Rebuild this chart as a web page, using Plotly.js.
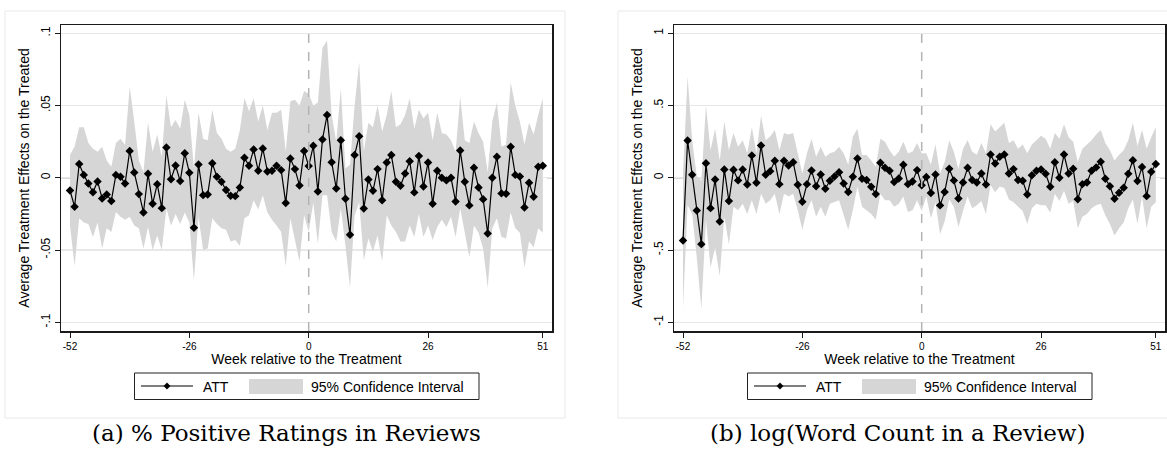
<!DOCTYPE html>
<html>
<head>
<meta charset="utf-8">
<script src="https://cdn.plot.ly/plotly-3.0.1.min.js"></script>
<style>html,body{margin:0;padding:0;background:#fff;}#chart{width:1167px;height:458px;}</style>
</head>
<body>
<div id="chart"></div>
<script>
// ---- data ----
var weeks = [-52,-51,-50,-49,-48,-47,-46,-45,-44,-43,-42,-41,-40,-39,-38,-37,-36,-35,-34,-33,-32,-31,-30,-29,-28,-27,-26,-25,-24,-23,-22,-21,-20,-19,-18,-17,-16,-15,-14,-13,-12,-11,-10,-9,-8,-7,-6,-5,-4,-3,-2,-1,
0,1,2,3,4,5,6,7,8,9,10,11,12,13,14,15,16,17,18,19,20,21,22,23,24,25,26,27,28,29,30,31,32,33,34,35,36,37,38,39,40,41,42,43,44,45,46,47,48,49,50,51];

// (a) % Positive Ratings in Reviews
var attA = [-0.0088,-0.020,0.0095,0.002,-0.004,-0.010,-0.0025,-0.0143,-0.0115,-0.016,0.002,0.0007,-0.004,0.0185,0.0037,-0.0113,-0.024,0.0028,-0.018,-0.0044,-0.021,0.021,-0.001,0.0085,-0.0023,0.017,0.0035,-0.0346,0.0092,-0.012,-0.0115,0.010,0.0007,-0.0028,-0.0085,-0.0125,-0.0127,-0.0067,0.0138,0.0083,0.0196,0.0048,0.0203,0.0044,0.0048,0.0083,0.0053,-0.0175,0.0134,0.006,-0.0053,0.0185,
0.0081,0.0221,-0.0095,0.0265,0.0434,0.0108,-0.0074,0.026,-0.0145,-0.0394,0.0157,0.0288,-0.0212,-0.0012,-0.009,0.006,-0.0155,0.0106,0.0157,-0.0028,-0.0055,0.003,0.0115,-0.0101,0.015,-0.006,0.0106,-0.018,0.0048,0.0,-0.0018,0.0,-0.0164,0.0189,-0.0028,-0.0191,0.0069,-0.0067,-0.0148,-0.0385,0.0,0.0145,-0.0108,-0.011,0.0215,0.002,0.0009,-0.0205,-0.0035,-0.0131,0.0076,0.0083];
var upperA = [0.016,0.0215,0.035,0.035,0.024,0.020,0.018,0.0215,0.012,0.0076,0.024,0.027,0.0227,0.063,0.039,0.012,0.004,0.038,0.018,0.030,0.0146,0.057,0.035,0.040,0.034,0.054,0.0435,0.0065,0.045,0.027,0.026,0.047,0.031,0.027,0.020,0.018,0.020,0.033,0.055,0.046,0.055,0.039,0.050,0.033,0.045,0.045,0.047,0.018,0.053,0.054,0.050,0.060,
0.058,0.050,0.052,0.090,0.095,0.0435,0.025,0.062,0.0065,0.009,0.050,0.080,0.018,0.038,0.035,0.050,0.032,0.0435,0.060,0.035,0.037,0.0435,0.055,0.034,0.047,0.041,0.045,0.026,0.045,0.031,0.030,0.026,0.018,0.056,0.026,0.024,0.039,0.031,0.025,0.004,0.039,0.052,0.0215,0.023,0.066,0.050,0.039,0.023,0.038,0.030,0.0435,0.055];
var lowerA = [-0.033,-0.061,-0.028,-0.031,-0.032,-0.041,-0.031,-0.049,-0.035,-0.0375,-0.0236,-0.027,-0.029,-0.027,-0.033,-0.035,-0.049,-0.034,-0.050,-0.040,-0.050,-0.021,-0.033,-0.025,-0.032,-0.024,-0.031,-0.071,-0.027,-0.050,-0.049,-0.028,-0.032,-0.035,-0.036,-0.044,-0.043,-0.047,-0.028,-0.026,-0.0155,-0.022,-0.012,-0.024,-0.029,-0.033,-0.0375,-0.061,-0.028,-0.042,-0.058,-0.026,
-0.0375,-0.017,-0.0456,-0.012,-0.012,-0.0375,-0.044,-0.021,-0.047,-0.076,-0.026,-0.017,-0.057,-0.042,-0.051,-0.040,-0.058,-0.026,-0.033,-0.0375,-0.044,-0.044,-0.033,-0.041,-0.025,-0.041,-0.033,-0.043,-0.034,-0.029,-0.034,-0.027,-0.041,-0.021,-0.039,-0.055,-0.033,-0.038,-0.049,-0.076,-0.035,-0.028,-0.041,-0.042,-0.024,-0.035,-0.038,-0.062,-0.044,-0.048,-0.035,-0.038];

// (b) log(Word Count in a Review)
var attB = [-0.434,0.258,0.021,-0.226,-0.459,0.101,-0.210,-0.012,-0.302,0.058,-0.161,0.055,-0.018,0.058,-0.046,0.155,-0.035,0.224,0.021,0.046,0.118,-0.044,0.118,0.085,0.108,-0.048,-0.166,-0.044,0.051,-0.058,0.023,-0.076,-0.021,0.009,0.039,-0.039,-0.099,0.007,0.134,-0.007,-0.016,-0.062,-0.113,0.104,0.069,0.048,-0.030,-0.005,0.090,-0.044,-0.025,0.053,
-0.051,0.005,-0.106,0.023,-0.191,-0.099,0.062,-0.018,-0.143,-0.032,0.069,-0.016,-0.032,0.030,-0.046,0.161,0.099,0.145,0.161,0.030,0.060,-0.016,-0.021,-0.115,0.018,0.048,0.058,0.028,-0.062,0.108,0.000,0.161,0.030,0.062,-0.148,-0.044,-0.032,0.048,0.072,0.111,-0.007,-0.058,-0.145,-0.104,-0.069,0.028,0.122,-0.023,0.074,-0.127,0.042,0.095];
var upperB = [0.03,0.70,0.26,0.01,-0.02,0.50,0.19,0.34,0.12,0.39,0.19,0.31,0.215,0.26,0.17,0.35,0.17,0.43,0.26,0.285,0.33,0.19,0.31,0.30,0.31,0.17,0.03,0.17,0.27,0.146,0.215,0.146,0.17,0.18,0.215,0.17,0.09,0.285,0.34,0.157,0.157,0.12,0.076,0.27,0.25,0.19,0.146,0.18,0.25,0.17,0.18,0.24,
0.17,0.17,0.09,0.23,0.03,0.11,0.26,0.18,0.06,0.20,0.26,0.18,0.16,0.24,0.17,0.37,0.32,0.35,0.38,0.24,0.26,0.20,0.23,0.17,0.23,0.26,0.29,0.27,0.20,0.31,0.27,0.37,0.28,0.25,0.11,0.20,0.23,0.26,0.30,0.33,0.24,0.19,0.12,0.16,0.19,0.26,0.38,0.22,0.33,0.20,0.28,0.35];
var lowerB = [-0.90,-0.19,-0.25,-0.55,-0.91,-0.29,-0.62,-0.48,-0.68,-0.27,-0.46,-0.20,-0.225,-0.18,-0.25,-0.155,-0.25,-0.11,-0.18,-0.155,-0.11,-0.25,-0.11,-0.13,-0.11,-0.225,-0.36,-0.225,-0.155,-0.27,-0.20,-0.27,-0.18,-0.167,-0.155,-0.25,-0.36,-0.225,-0.06,-0.20,-0.225,-0.25,-0.29,-0.11,-0.155,-0.155,-0.20,-0.18,-0.13,-0.236,-0.225,-0.155,
-0.23,-0.13,-0.28,-0.17,-0.39,-0.30,-0.15,-0.20,-0.34,-0.23,-0.13,-0.21,-0.19,-0.16,-0.25,-0.05,-0.10,-0.06,-0.07,-0.15,-0.17,-0.20,-0.23,-0.32,-0.21,-0.18,-0.19,-0.19,-0.24,-0.11,-0.16,-0.09,-0.18,-0.16,-0.35,-0.27,-0.25,-0.21,-0.19,-0.18,-0.26,-0.32,-0.40,-0.35,-0.31,-0.21,-0.15,-0.32,-0.13,-0.35,-0.20,-0.17];

var xTickVals = [-52,-26,0,26,51];
var xTickText = ["-52","-26","0","26","51"];
var yTickValsA = [-0.1,-0.05,0,0.05,0.1];
var yTickTextA = ["-.1","-.05","0",".05",".1"];
var yTickValsB = [-1,-0.5,0,0.5,1];
var yTickTextB = ["-1","-.5","0",".5","1"];

var xTitle = "Week relative to the Treatment";
var yTitle = "Average Treatment Effects on the Treated";
var captionA = "(a) % Positive Ratings in Reviews";
var captionB = "(b) log(Word Count in a Review)";
var legendLine = "ATT";
var legendBand = "95% Confidence Interval";

// ---- build ----
var W = 1167, H = 458;
var BAND = "#d6d6d6";
function px(x){return x / W;}
function py(y){return 1 - y / H;}

function bandTrace(up, lo, xa, ya){
  return {x: weeks.concat(weeks.slice().reverse()), y: up.concat(lo.slice().reverse()),
    type:"scatter", mode:"lines", fill:"toself", fillcolor:BAND, line:{width:0, color:BAND},
    hoverinfo:"skip", showlegend:false, xaxis:xa, yaxis:ya, name:legendBand};
}
function attTrace(v, xa, ya){
  return {x: weeks, y: v, type:"scatter", mode:"lines+markers",
    line:{color:"#000", width:1.2}, marker:{symbol:"diamond", size:6.5, color:"#000"},
    showlegend:false, xaxis:xa, yaxis:ya, name:legendLine};
}

var data = [
  bandTrace(upperA, lowerA, "x", "y"), attTrace(attA, "x", "y"),
  bandTrace(upperB, lowerB, "x2", "y2"), attTrace(attB, "x2", "y2")
];

var font = {family:"Liberation Sans, Arial, sans-serif", color:"#000"};
var yDom = [1 - 331/H, 1 - 25/H];
function xaxisDef(dom, anchor){
  return {domain:dom, anchor:anchor, range:[-53.96, 53.0], tickmode:"array", tickvals:xTickVals, ticktext:xTickText,
    showline:true, linecolor:"#1a1a1a", linewidth:1.5, mirror:true, ticks:"outside", ticklen:5, tickwidth:1, tickcolor:"#1a1a1a",
    showgrid:false, zeroline:false, tickfont:{family:font.family, size:10, color:"#000"},
    title:{text:xTitle, font:{family:font.family, size:14, color:"#000"}, standoff:1}, fixedrange:true};
}
function yaxisDef(range, vals, text, anchor){
  return {domain:yDom, anchor:anchor, range:range, tickmode:"array", tickvals:vals, ticktext:text, tickangle:-90,
    showline:true, linecolor:"#1a1a1a", linewidth:1.5, mirror:true, ticks:"outside", ticklen:5, tickwidth:1, tickcolor:"#1a1a1a",
    showgrid:true, gridcolor:"#e8e8e8", gridwidth:1.3, zeroline:false, tickfont:{family:font.family, size:12, color:"#000"},
    title:{text:yTitle, font:{family:font.family, size:14, color:"#000"}, standoff:6}, fixedrange:true};
}

var shapes = [], annotations = [];
function panelDecor(off, xa, ya, caption, capCenter){
  // outer panel frame
  shapes.push({type:"rect", xref:"paper", yref:"paper", x0:px(5+off), x1:px(565+off), y0:py(418), y1:py(11),
    line:{color:"#e9e9e9", width:1}, layer:"below"});
  // dashed reference lines
  shapes.push({type:"line", xref:xa, yref:ya+" domain", x0:0, x1:0, y0:0, y1:1, line:{color:"#b4b4b4", width:1.5, dash:"dash"}, layer:"above"});
  shapes.push({type:"line", xref:xa+" domain", yref:ya, x0:0, x1:1, y0:0, y1:0, line:{color:"#b4b4b4", width:1.5, dash:"dash"}, layer:"below"});
  // legend box
  shapes.push({type:"rect", xref:"paper", yref:"paper", x0:px(134.5+off), x1:px(479+off), y0:py(399.5), y1:py(373), line:{color:"#222", width:1}, fillcolor:"rgba(0,0,0,0)"});
  shapes.push({type:"line", xref:"paper", yref:"paper", x0:px(141+off), x1:px(193+off), y0:py(386), y1:py(386), line:{color:"#000", width:1.2}});
  var cx = 167+off, cy = 386, d = 3.2;
  shapes.push({type:"path", xref:"paper", yref:"paper",
    path:"M "+px(cx)+" "+py(cy-d)+" L "+px(cx+d)+" "+py(cy)+" L "+px(cx)+" "+py(cy+d)+" L "+px(cx-d)+" "+py(cy)+" Z",
    fillcolor:"#000", line:{color:"#000", width:0.5}});
  shapes.push({type:"rect", xref:"paper", yref:"paper", x0:px(249+off), x1:px(303+off), y0:py(394), y1:py(379), line:{width:0}, fillcolor:BAND});
  annotations.push({xref:"paper", yref:"paper", x:px(201+off), y:py(386.5), xanchor:"left", yanchor:"middle", showarrow:false,
    text:legendLine, font:{family:font.family, size:14, color:"#000"}});
  annotations.push({xref:"paper", yref:"paper", x:px(309+off), y:py(386.5), xanchor:"left", yanchor:"middle", showarrow:false,
    text:legendBand, font:{family:font.family, size:14, color:"#000"}});
  annotations.push({xref:"paper", yref:"paper", x:px(capCenter), y:py(433), xanchor:"center", yanchor:"middle", showarrow:false,
    text:caption, font:{family:"DejaVu Serif, Liberation Serif, serif", size:23, color:"#000"}});
}
panelDecor(0, "x", "y", captionA, 286);
panelDecor(613, "x2", "y2", captionB, 898);

var layout = {
  width:W, height:H, margin:{l:0, r:0, t:0, b:0}, paper_bgcolor:"#fff", plot_bgcolor:"#fff",
  showlegend:false, font:font,
  xaxis: xaxisDef([61/W, 552/W], "y"),
  yaxis: yaxisDef([-0.106, 0.1057], yTickValsA, yTickTextA, "x"),
  xaxis2: xaxisDef([674/W, 1165/W], "y2"),
  yaxis2: yaxisDef([-1.06, 1.057], yTickValsB, yTickTextB, "x2"),
  shapes: shapes, annotations: annotations
};

Plotly.newPlot("chart", data, layout, {staticPlot:true, displayModeBar:false});
</script>
</body>
</html>
